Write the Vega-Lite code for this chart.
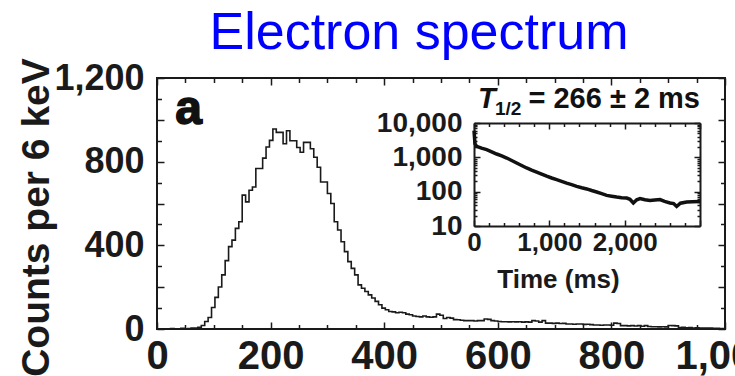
{
  "$schema": "https://vega.github.io/schema/vega-lite/v6.json",
  "width": 568,
  "height": 251,
  "autosize": {"type": "none"},
  "padding": {"left": 157, "top": 78, "right": 10, "bottom": 47},
  "background": "white",
  "title": {"text": "Electron spectrum", "color": "#0000ff", "fontSize": 52, "font": "Liberation Sans", "fontWeight": "normal", "anchor": "middle", "frame": "group", "dx": -22, "dy": 2, "offset": 0},
  "config": {
    "font": "Liberation Sans",
    "view": {"stroke": "#1a1a1a", "strokeWidth": 2},
    "axis": {"domain": false, "grid": false, "labelOverlap": false, "labelBound": false, "labelFlush": false, "tickColor": "#1a1a1a", "tickWidth": 1.5, "labelColor": "#1a1a1a", "titleColor": "#1a1a1a", "labelFontWeight": "bold", "titleFontWeight": "bold", "domainColor": "#1a1a1a", "domainWidth": 2}
  },
  "datasets": {
    "spec": [
      {"E":0,"C":0},{"E":6,"C":0},{"E":12,"C":0},{"E":18,"C":0},{"E":24,"C":2},{"E":30,"C":0},{"E":36,"C":0},{"E":42,"C":3},{"E":48,"C":0},{"E":54,"C":2},
      {"E":60,"C":4},{"E":66,"C":5},{"E":72,"C":8},{"E":78,"C":17},{"E":84,"C":36},{"E":90,"C":55},{"E":96,"C":103},{"E":102,"C":151},{"E":108,"C":201},{"E":114,"C":259},
      {"E":120,"C":327},{"E":126,"C":394},{"E":132,"C":425},{"E":138,"C":481},{"E":144,"C":513},{"E":150,"C":640},{"E":156,"C":608},{"E":162,"C":663},{"E":168,"C":679},{"E":174,"C":767},
      {"E":180,"C":767},{"E":186,"C":817},{"E":192,"C":870},{"E":198,"C":902},{"E":204,"C":956},{"E":210,"C":940},{"E":216,"C":940},{"E":222,"C":886},{"E":228,"C":948},{"E":234,"C":900},
      {"E":240,"C":900},{"E":246,"C":868},{"E":252,"C":845},{"E":258,"C":892},{"E":264,"C":892},{"E":270,"C":862},{"E":276,"C":821},{"E":282,"C":773},{"E":288,"C":703},{"E":294,"C":703},
      {"E":300,"C":648},{"E":306,"C":600},{"E":312,"C":513},{"E":318,"C":473},{"E":324,"C":417},{"E":330,"C":370},{"E":336,"C":322},{"E":342,"C":290},{"E":348,"C":259},{"E":354,"C":211},
      {"E":360,"C":195},{"E":366,"C":179},{"E":372,"C":163},{"E":378,"C":148},{"E":384,"C":132},{"E":390,"C":116},{"E":396,"C":100},{"E":402,"C":92},{"E":408,"C":84},{"E":414,"C":82},
      {"E":420,"C":78},{"E":426,"C":80},{"E":432,"C":78},{"E":438,"C":71},{"E":444,"C":68},{"E":450,"C":62},{"E":456,"C":60},{"E":462,"C":58},{"E":468,"C":62},{"E":474,"C":58},
      {"E":480,"C":56},{"E":486,"C":58},{"E":492,"C":71},{"E":498,"C":66},{"E":504,"C":50},{"E":510,"C":55},{"E":516,"C":52},{"E":522,"C":45},{"E":528,"C":44},{"E":534,"C":42},
      {"E":540,"C":40},{"E":546,"C":40},{"E":552,"C":40},{"E":558,"C":38},{"E":564,"C":40},{"E":570,"C":40},{"E":576,"C":48},{"E":582,"C":46},{"E":588,"C":40},{"E":594,"C":38},
      {"E":600,"C":36},{"E":606,"C":35},{"E":612,"C":35},{"E":618,"C":34},{"E":624,"C":35},{"E":630,"C":34},{"E":636,"C":35},{"E":642,"C":33},{"E":648,"C":34},{"E":654,"C":33},
      {"E":660,"C":40},{"E":666,"C":38},{"E":672,"C":33},{"E":678,"C":40},{"E":684,"C":28},{"E":690,"C":28},{"E":696,"C":27},{"E":702,"C":28},{"E":708,"C":26},{"E":714,"C":27},
      {"E":720,"C":24},{"E":726,"C":24},{"E":732,"C":23},{"E":738,"C":24},{"E":744,"C":24},{"E":750,"C":22},{"E":756,"C":23},{"E":762,"C":21},{"E":768,"C":19},{"E":774,"C":19},
      {"E":780,"C":18},{"E":786,"C":19},{"E":792,"C":19},{"E":798,"C":18},{"E":804,"C":28},{"E":810,"C":26},{"E":816,"C":16},{"E":822,"C":16},{"E":828,"C":15},{"E":834,"C":16},
      {"E":840,"C":14},{"E":846,"C":16},{"E":852,"C":13},{"E":858,"C":16},{"E":864,"C":12},{"E":870,"C":11},{"E":876,"C":11},{"E":882,"C":10},{"E":888,"C":11},{"E":894,"C":10},
      {"E":900,"C":17},{"E":906,"C":16},{"E":912,"C":15},{"E":918,"C":7},{"E":924,"C":8},{"E":930,"C":6},{"E":936,"C":7},{"E":942,"C":5},{"E":948,"C":6},{"E":954,"C":5},
      {"E":960,"C":4},{"E":966,"C":5},{"E":972,"C":4},{"E":978,"C":3},{"E":984,"C":3},{"E":990,"C":2},{"E":996,"C":2},{"E":1000,"C":2}
    ],
    "decay": [
      {"t":0,"N":6000},{"t":13,"N":2500},{"t":35,"N":2090},{"t":100,"N":1850},{"t":168,"N":1670},{"t":235,"N":1450},{"t":301,"N":1250},{"t":368,"N":1100},{"t":434,"N":955},{"t":500,"N":810},
      {"t":566,"N":684},{"t":632,"N":580},{"t":699,"N":490},{"t":765,"N":425},{"t":832,"N":372},{"t":898,"N":325},{"t":965,"N":282},{"t":1031,"N":250},{"t":1097,"N":224},{"t":1163,"N":200},
      {"t":1230,"N":178},{"t":1296,"N":160},{"t":1363,"N":143},{"t":1430,"N":130},{"t":1496,"N":120},{"t":1562,"N":108},{"t":1628,"N":98},{"t":1695,"N":88},{"t":1761,"N":78},{"t":1827,"N":74},
      {"t":1894,"N":70},{"t":1960,"N":67},{"t":2027,"N":65},{"t":2070,"N":60},{"t":2115,"N":47},{"t":2160,"N":58},{"t":2204,"N":63},{"t":2270,"N":58},{"t":2336,"N":55},{"t":2400,"N":57},
      {"t":2469,"N":59},{"t":2530,"N":52},{"t":2602,"N":47},{"t":2650,"N":45},{"t":2690,"N":37},{"t":2740,"N":46},{"t":2823,"N":50},{"t":2900,"N":51},{"t":3000,"N":52}
    ]
  },
  "layer": [
    {
      "layer": [
        {
          "data": {"name": "spec"},
          "mark": {"type": "line", "interpolate": "step-after", "color": "#1a1a1a", "strokeWidth": 1.6},
          "encoding": {
            "x": {"field": "E", "type": "quantitative", "scale": {"domain": [0, 1000], "nice": false},
              "axis": {"orient": "bottom", "title": null, "values": [0,50,100,150,200,250,300,350,400,450,500,550,600,650,700,750,800,850,900,950,1000],
                "labelExpr": "datum.value % 200 === 0 ? format(datum.value, ',') : ''", "labelFontSize": 40, "labelPadding": 14,
                "tickSize": {"condition": {"test": "datum.value % 200 === 0", "value": -7}, "value": -4.5}}},
            "y": {"field": "C", "type": "quantitative", "scale": {"domain": [0, 1200], "nice": false},
              "axis": {"orient": "left", "title": "Counts per 6 keV", "values": [0,100,200,300,400,500,600,700,800,900,1000,1100,1200],
                "labelExpr": "datum.value % 400 === 0 ? format(datum.value, ',') : ''", "labelFontSize": 36, "labelPadding": 20,
                "tickSize": {"condition": {"test": "datum.value % 200 === 0", "value": -7}, "value": -4.5},
                "titleFontSize": 39, "titleFont": "Liberation Sans", "titleX": -109, "titleY": 139, "titleBaseline": "alphabetic"}}
          }
        },
        {
          "data": {"name": "spec"},
          "mark": {"type": "line", "opacity": 0},
          "encoding": {
            "x": {"field": "E", "type": "quantitative",
              "axis": {"orient": "top", "title": null, "labels": false, "values": [0,50,100,150,200,250,300,350,400,450,500,550,600,650,700,750,800,850,900,950,1000],
                "tickSize": {"condition": {"test": "datum.value % 200 === 0", "value": -7}, "value": -4.5}}},
            "y": {"field": "C", "type": "quantitative",
              "axis": {"orient": "right", "title": null, "labels": false, "values": [0,100,200,300,400,500,600,700,800,900,1000,1100,1200],
                "tickSize": {"condition": {"test": "datum.value % 200 === 0", "value": -7}, "value": -4.5}}}
          }
        },
        {
          "data": {"values": [{"label": "a"}]},
          "mark": {"type": "text", "font": "Liberation Sans", "fontSize": 48, "fontWeight": "bold", "align": "left", "baseline": "alphabetic", "color": "#111", "stroke": "#111", "strokeWidth": 1.5},
          "encoding": {
            "x": {"datum": 32, "type": "quantitative", "axis": null},
            "y": {"datum": 981, "type": "quantitative", "axis": null},
            "text": {"field": "label"}
          }
        }
      ],
      "resolve": {"axis": {"x": "independent", "y": "independent"}}
    },
    {
      "layer": [
        {
          "data": {"name": "decay"},
          "mark": {"type": "line", "color": "#111", "strokeWidth": 3.5},
          "encoding": {
            "x": {"field": "t", "type": "quantitative", "scale": {"domain": [0, 3000], "range": [317, 543], "nice": false},
              "axis": {"orient": "bottom", "offset": -103, "domain": true, "values": [0,200,400,600,800,1000,1200,1400,1600,1800,2000,2200,2400,2600,2800,3000],
                "labelExpr": "datum.value % 1000 === 0 && datum.value < 3000 ? format(datum.value, ',') : ''", "labelFontSize": 26, "labelPadding": 9,
                "tickSize": {"condition": {"test": "datum.value % 1000 === 0", "value": -6}, "value": -3.5},
                "title": "Time (ms)", "titleFontSize": 26, "titleX": 401, "titleY": 61, "titleBaseline": "alphabetic"}},
            "y": {"field": "N", "type": "quantitative", "scale": {"type": "log", "domain": [10, 10000], "range": [148, 45], "nice": false},
              "axis": {"orient": "left", "offset": -317, "domain": true, "title": null,
                "values": [10,20,30,40,50,60,70,80,90,100,200,300,400,500,600,700,800,900,1000,2000,3000,4000,5000,6000,7000,8000,9000,10000],
                "labelExpr": "(datum.value === 10 || datum.value === 100 || datum.value === 1000 || datum.value === 10000) ? format(datum.value, ',') : ''",
                "labelFontSize": 28, "labelPadding": 18,
                "tickSize": {"condition": {"test": "datum.value === 10 || datum.value === 100 || datum.value === 1000 || datum.value === 10000", "value": -6}, "value": -3}}}
          }
        },
        {
          "data": {"name": "decay"},
          "mark": {"type": "line", "opacity": 0},
          "encoding": {
            "x": {"field": "t", "type": "quantitative",
              "axis": {"orient": "top", "offset": -45, "domain": true, "title": null, "labels": false, "values": [0,200,400,600,800,1000,1200,1400,1600,1800,2000,2200,2400,2600,2800,3000],
                "tickSize": {"condition": {"test": "datum.value % 1000 === 0", "value": -6}, "value": -3.5}}},
            "y": {"field": "N", "type": "quantitative",
              "axis": {"orient": "right", "offset": -25, "domain": true, "title": null, "labels": false,
                "values": [10,20,30,40,50,60,70,80,90,100,200,300,400,500,600,700,800,900,1000,2000,3000,4000,5000,6000,7000,8000,9000,10000],
                "tickSize": {"condition": {"test": "datum.value === 10 || datum.value === 100 || datum.value === 1000 || datum.value === 10000", "value": -6}, "value": -3}}}
          }
        },
        {
          "data": {"values": [{"s": "T"}]},
          "mark": {"type": "text", "fontSize": 29, "fontWeight": "bold", "fontStyle": "italic", "align": "left", "baseline": "alphabetic", "dx": 4, "dy": -15, "color": "#111"},
          "encoding": {
            "x": {"datum": 0, "type": "quantitative", "axis": null},
            "y": {"datum": 10000, "type": "quantitative", "axis": null},
            "text": {"field": "s"}
          }
        },
        {
          "data": {"values": [{"s": "1/2"}]},
          "mark": {"type": "text", "fontSize": 19, "fontWeight": "bold", "align": "left", "baseline": "alphabetic", "dx": 21, "dy": -8, "color": "#111"},
          "encoding": {
            "x": {"datum": 0, "type": "quantitative", "axis": null},
            "y": {"datum": 10000, "type": "quantitative", "axis": null},
            "text": {"field": "s"}
          }
        },
        {
          "data": {"values": [{"s": "= 266 ± 2 ms"}]},
          "mark": {"type": "text", "fontSize": 29, "fontWeight": "bold", "align": "right", "baseline": "alphabetic", "dx": 0, "dy": -15, "color": "#111"},
          "encoding": {
            "x": {"datum": 3000, "type": "quantitative", "axis": null},
            "y": {"datum": 10000, "type": "quantitative", "axis": null},
            "text": {"field": "s"}
          }
        }
      ],
      "resolve": {"axis": {"x": "independent", "y": "independent"}}
    }
  ],
  "resolve": {"scale": {"x": "independent", "y": "independent"}, "axis": {"x": "independent", "y": "independent"}}
}
